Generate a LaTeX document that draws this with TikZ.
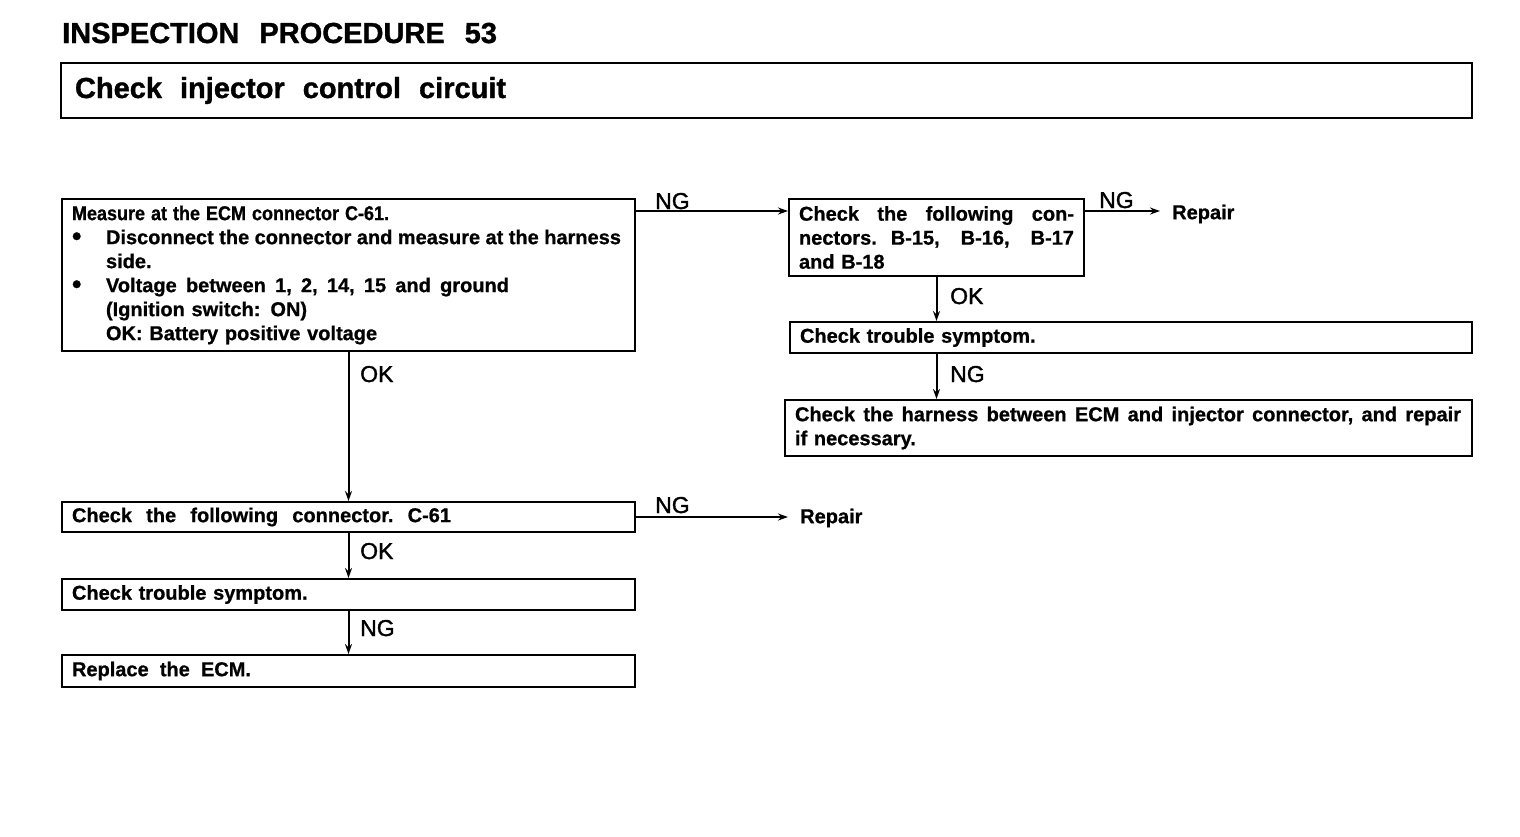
\documentclass[tikz,border=0pt]{standalone}
\usepackage{fontspec}
\setmainfont{Liberation Sans}
\newfontfamily\hv{Liberation Sans Bold}[FakeBold=0.8]
\newfontfamily\hvtitle{Liberation Sans Bold}[FakeBold=1.2]
\newfontfamily\hvlab{Liberation Sans}[FakeBold=1.5]
\usetikzlibrary{arrows.meta}
\newcommand{\jline}[2]{\leavevmode\hbox to #1{#2}}
\newcommand{\bul}{\makebox[34pt][l]{\raisebox{-1pt}{\fontsize{27}{24}\selectfont\textbullet}}}
\begin{document}
\begin{tikzpicture}[x=1pt,y=-1pt,
  box/.style={draw, line width=2pt, anchor=north west, inner xsep=10pt, inner ysep=0pt, align=left,
    font=\fontsize{20}{24}\selectfont\hv},
  lbl/.style={font=\fontsize{23}{24}\selectfont\hvlab, anchor=base west, inner sep=0pt},
  rep/.style={font=\fontsize{20}{24}\selectfont\hv, anchor=west, inner sep=0pt},
  conn/.style={line width=2pt, -{Stealth[length=10pt,width=7pt]}},
  ]
\useasboundingbox[fill=white] (0,0) rectangle (1520,836);

\node[anchor=base west, inner sep=0pt, font=\fontsize{29}{30}\selectfont\hvtitle] (title) at (62,43)
  {INSPECTION\hspace{20pt}PROCEDURE\hspace{20pt}53};
\node[box, inner xsep=14pt, minimum width=1411pt, minimum height=55pt, text width=1383pt,
  font=\fontsize{29}{30}\selectfont\hvtitle] (head) at (60,62)
  {Check\hspace{18pt}injector\hspace{18pt}control\hspace{18pt}circuit};

\node[box, minimum width=573pt, minimum height=152pt, text width=553pt] (b1) at (61,198)
  {\scalebox{0.9}[1]{Measure at the ECM connector C-61.}\\
   \bul\jline{515pt}{Disconnect\hfill the\hfill connector\hfill and\hfill measure\hfill at\hfill the\hfill harness}\\
   \hspace*{34pt}side.\\
   \bul\jline{403pt}{Voltage\hfill between\hfill 1,\hfill 2,\hfill 14,\hfill 15\hfill and\hfill ground}\\
   \hspace*{34pt}(Ignition switch: ON)\\
   \hspace*{34pt}OK: Battery positive voltage};

\node[box, minimum width=295pt, minimum height=77pt, text width=275pt] (b2) at (788,198)
  {\jline{275pt}{Check\hfill the\hfill following\hfill con-}\\
   \jline{275pt}{nectors.\hspace{14pt}B-15,\hfill B-16,\hfill B-17}\\
   and B-18};

\node[box, minimum width=682pt, minimum height=31pt, text width=662pt] (b3) at (789,321)
  {Check trouble symptom.};

\node[box, minimum width=687pt, minimum height=56pt, text width=667pt] (b4) at (784,399)
  {\jline{666pt}{Check\hfill the\hfill harness\hfill between\hfill ECM\hfill and\hfill injector\hfill connector,\hfill and\hfill repair}\\
   if necessary.};

\node[box, minimum width=573pt, minimum height=30pt, text width=553pt] (b5) at (61,501)
  {\jline{379pt}{Check\hfill the\hfill following\hfill connector.\hfill C-61}};
\node[box, minimum width=573pt, minimum height=31pt, text width=553pt] (b6) at (61,578)
  {Check trouble symptom.};
\node[box, minimum width=573pt, minimum height=32pt, text width=553pt] (b7) at (61,654)
  {\jline{179pt}{Replace\hfill the\hfill ECM.}};

\node[rep] (r1) at (1172,214) {Repair};
\node[rep] (r2) at (800,518) {Repair};

% connectors
\draw[conn] (b1.east |- 0,211) -- (b2.west |- 0,211);
\node[lbl] (l1) at (655,209) {NG};
\draw[conn] (b2.east |- 0,211) -- ([xshift=-12pt]r1.west |- 0,211);
\node[lbl] (l2) at (1099,208) {NG};
\draw[conn] (b2.south) -- (b2.south |- b3.north);
\node[lbl] (l3) at (950,304) {OK};
\draw[conn] (b2.south |- b3.south) -- (b2.south |- b4.north);
\node[lbl] (l4) at (950,382) {NG};

\draw[conn] (b1.south) -- (b5.north);
\node[lbl] (l5) at (360,382) {OK};
\draw[conn] (b5.east) -- ([xshift=-12pt]b5.east -| r2.west);
\node[lbl] (l6) at (655,513) {NG};
\draw[conn] (b5.south) -- (b6.north);
\node[lbl] (l7) at (360,559) {OK};
\draw[conn] (b6.south) -- (b7.north);
\node[lbl] (l8) at (360,636) {NG};
\end{tikzpicture}
\end{document}
